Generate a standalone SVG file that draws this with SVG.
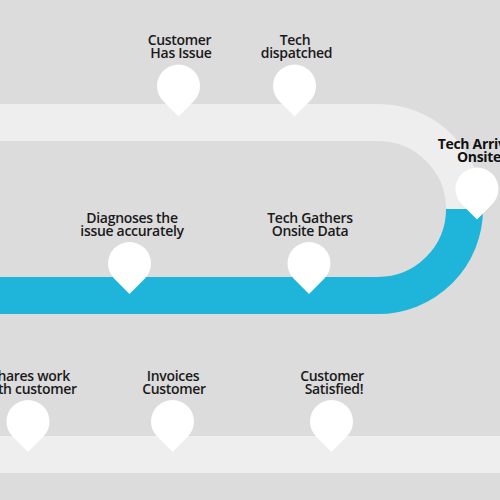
<svg xmlns="http://www.w3.org/2000/svg" width="500" height="500" viewBox="0 0 500 500">
<style>
.band{fill:none;stroke-width:37}
.pale{stroke:#eeeeee}
.blue{stroke:#1fb4da}
.pin{fill:#ffffff}
text{font-family:"Open Sans","Liberation Sans",sans-serif;font-size:14px;font-weight:600;fill:#1a1a1a;text-anchor:middle;letter-spacing:-0.3px}
.b{font-weight:700;fill:#111111}
</style>
<defs>
<path id="p" d="M-15.2,15.2 A21.5,21.5 0 1 1 15.2,15.2 L0,30.5 Z"/>
</defs>
<rect width="500" height="500" fill="#dcdcdc"/>
<g id="connectors">
<path class="band pale" d="M0,122.5 H378 A86.5,86.5 0 0 1 464.5,209"/>
<path class="band blue" d="M464.5,209 A86.5,86.5 0 0 1 378,295.5 H0"/>
<path class="band pale" d="M0,454.5 H500"/>
</g>
<g id="node-customer-has-issue"><use href="#p" class="pin" x="178.500" y="86"/><text><tspan x="179.500" y="45">Customer</tspan><tspan x="181" y="58">Has Issue</tspan></text></g>
<g id="node-tech-dispatched"><use href="#p" class="pin" x="294.500" y="86"/><text><tspan x="295" y="45">Tech</tspan><tspan x="296.500" y="58">dispatched</tspan></text></g>
<g id="node-tech-arrives"><use href="#p" class="pin" x="477" y="189"/><text class="b"><tspan x="479" y="149">Tech Arrives</tspan><tspan x="479" y="162">Onsite</tspan></text></g>
<g id="node-diagnoses"><use href="#p" class="pin" x="129.500" y="263.500"/><text><tspan x="132" y="223">Diagnoses the</tspan><tspan x="132" y="236">issue accurately</tspan></text></g>
<g id="node-tech-gathers"><use href="#p" class="pin" x="309" y="263.500"/><text><tspan x="310" y="223">Tech Gathers</tspan><tspan x="310" y="236">Onsite Data</tspan></text></g>
<g id="node-shares-work"><use href="#p" class="pin" x="28" y="421.500"/><text><tspan x="30" y="381">Shares work</tspan><tspan x="30" y="394">with customer</tspan></text></g>
<g id="node-invoices"><use href="#p" class="pin" x="172.500" y="421.500"/><text><tspan x="173" y="381">Invoices</tspan><tspan x="174" y="394">Customer</tspan></text></g>
<g id="node-satisfied"><use href="#p" class="pin" x="331.500" y="421.500"/><text><tspan x="332" y="381">Customer</tspan><tspan x="334" y="394">Satisfied!</tspan></text></g>
</svg>
